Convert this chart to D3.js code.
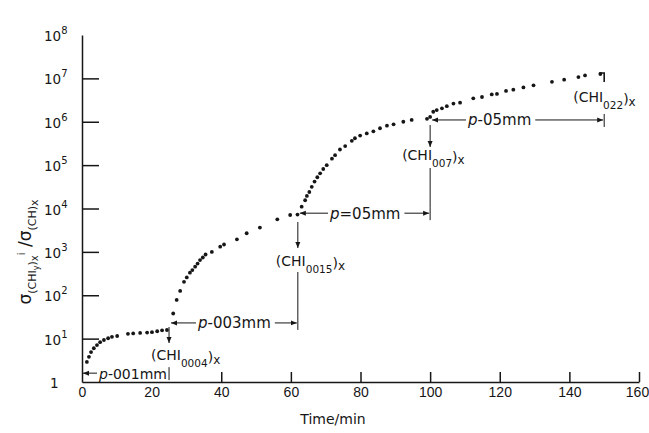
<!DOCTYPE html>
<html>
<head>
<meta charset="utf-8">
<script src="https://cdn.jsdelivr.net/npm/d3@7"></script>
<style>
  body { margin: 0; background: #fff; }
  svg { font-family: "DejaVu Sans", "Liberation Sans", sans-serif; }
</style>
</head>
<body>
<svg id="chart" width="649" height="433"></svg>
<script>
// values: time (min) and sigma ratio, one pair per step
var t1 = [1.4, 2.0, 2.6, 3.4, 4.3, 5.2, 6.3, 7.5, 8.6, 10.1, 13.2, 14.7, 16.7, 18.7, 20.1, 21.6, 23.0, 24.4];
var v1 = [2.9, 3.8, 4.9, 6.0, 7.1, 8.3, 9.3, 10.2, 11.0, 11.5, 12.9, 13.2, 13.5, 13.8, 14.1, 14.8, 15.5, 15.8];

var t2 = [26.2, 27.2, 28.2, 29.3, 30.1, 31.0, 31.7, 32.5, 33.2, 33.9, 34.7, 35.5, 37.3, 39.7, 40.8, 44.5, 47.3, 51.1, 56.1, 59.8, 61.9];
var v2 = [38, 78, 126, 204, 257, 331, 380, 457, 537, 646, 741, 871, 1000, 1318, 1479, 1950, 2690, 3630, 5620, 7080, 7240];

var t3 = [63.1, 64.1, 64.6, 65.3, 66.0, 66.8, 67.6, 68.4, 69.3, 70.3, 71.8, 72.7, 74.1, 75.6, 77.5, 78.4, 79.9, 81.8, 83.7, 85.6, 87.6, 89.5, 92.3, 94.7, 99.1, 100.0];
var v3 = [1.10e4, 1.55e4, 1.95e4, 2.4e4, 3.16e4, 4.17e4, 5.25e4, 6.46e4, 8.13e4, 1.0e5, 1.41e5, 1.70e5, 2.29e5, 2.75e5, 3.63e5, 4.17e5, 4.79e5, 5.37e5, 6.03e5, 7.08e5, 8.13e5, 8.71e5, 1.0e6, 1.10e6, 1.17e6, 1.29e6];

var t4 = [100.9, 101.9, 103.4, 104.8, 106.7, 108.6, 112.4, 114.9, 117.7, 119.2, 121.8, 123.9, 126.8, 129.7, 135.0, 138.5, 142.6, 144.5, 148.9];
var v4 = [1.70e6, 1.86e6, 2.04e6, 2.29e6, 2.63e6, 2.75e6, 3.47e6, 3.72e6, 4.27e6, 4.37e6, 5.13e6, 5.50e6, 6.17e6, 6.92e6, 8.32e6, 9.33e6, 1.07e7, 1.17e7, 1.26e7];

var xTicks = [0, 20, 40, 60, 80, 100, 120, 140, 160];
var yTicks = [1, 1e1, 1e2, 1e3, 1e4, 1e5, 1e6, 1e7, 1e8];

// steps: start/end time, arrow level, labels
var stepStart = [0, 25, 62, 100];
var stepEnd = [25, 62, 100, 150];
var stepLevel = [1.6, 23, 7800, 1.1e6];
var stepText = ["p-001mm", "p-003mm", "p=05mm", "p-05mm"];
var chiSub = ["0004", "0015", "007", "022"];

var svg = d3.select("#chart");
var x = d3.scaleLinear().domain([0, 160]).range([82, 639]);
var y = d3.scaleLog().domain([1, 1e8]).range([382, 35]);
var ink = "#161616";

svg.append("defs").append("marker")
    .attr("id", "ah")
    .attr("viewBox", "0 -3 6 6")
    .attr("refX", 6).attr("refY", 0)
    .attr("markerWidth", 6).attr("markerHeight", 6)
    .attr("markerUnits", "userSpaceOnUse")
    .attr("orient", "auto-start-reverse")
    .append("path").attr("d", "M0,-2.5L6,0L0,2.5Z").attr("fill", ink);

// x axis, ticks pointing up
var xg = svg.append("g").attr("transform", "translate(0," + y(1) + ")")
    .call(d3.axisBottom(x).tickValues(xTicks).tickSizeInner(-10).tickSizeOuter(0).tickPadding(5));
xg.selectAll(".tick line").filter(d => d < 40).remove();
xg.selectAll(".tick text").attr("font-size", 14).attr("font-family", null).attr("fill", ink);
xg.selectAll(".tick text").filter(d => d == 160).attr("dx", -2);

// y axis, ticks pointing right
var yg = svg.append("g").attr("transform", "translate(" + x(0) + ",0)")
    .call(d3.axisLeft(y).tickValues(yTicks).tickSizeInner(-17).tickSizeOuter(0).tickFormat(""));
yg.selectAll(".tick line").filter(d => d == 1 || d == 1e8).remove();
svg.selectAll(".domain, .tick line").attr("stroke", ink).attr("stroke-width", 1.5);

var ylab = svg.append("g").selectAll("text").data(yTicks).enter().append("text")
    .attr("x", d => d == 1 ? 50 : 44)
    .attr("y", d => y(d) + 6)
    .attr("font-size", 13.5).attr("fill", ink);
ylab.append("tspan").text(d => d == 1 ? "1" : "10");
ylab.filter(d => d > 1).append("tspan")
    .attr("dy", -7).attr("font-size", 10)
    .text(d => Math.round(Math.log10(d)));

// y title
var yt = svg.append("text")
    .attr("transform", "translate(31,252) rotate(-90)")
    .attr("text-anchor", "middle").attr("font-size", 17).attr("fill", ink);
yt.append("tspan").text("σ");
yt.append("tspan").attr("font-size", 11).attr("dy", 5).text("(CHI");
yt.append("tspan").attr("font-size", 8).attr("dy", 3).text("y");
yt.append("tspan").attr("font-size", 11).attr("dy", -3).text(")");
yt.append("tspan").attr("font-size", 10).attr("dy", 2).text("x");
yt.append("tspan").attr("font-size", 10).attr("dy", -13).text("i");
yt.append("tspan").attr("font-size", 17).attr("dy", 6).text(" /σ");
yt.append("tspan").attr("font-size", 11).attr("dy", 5).text("(CH)");
yt.append("tspan").attr("font-size", 11).attr("dy", 2).text("x");

svg.append("text").attr("x", 333).attr("y", 424).attr("text-anchor", "middle")
    .attr("font-size", 14).attr("fill", ink).text("Time/min");

// data points
var pts = [];
[[t1, v1], [t2, v2], [t3, v3], [t4, v4]].forEach(function (s) {
    s[0].forEach(function (t, i) { pts.push({ t: t, v: s[1][i] }); });
});
svg.append("g").selectAll("circle").data(pts).enter().append("circle")
    .attr("cx", d => x(d.t)).attr("cy", d => y(d.v))
    .attr("r", 1.9).attr("fill", ink);

// step annotations
var ann = svg.append("g").attr("stroke", ink).attr("stroke-width", 1).attr("fill", "none");
function seg(x1, y1, x2, y2, arrow) {
    var l = ann.append("line").attr("x1", x1).attr("y1", y1).attr("x2", x2).attr("y2", y2);
    if (arrow) l.attr("marker-end", "url(#ah)");
    return l;
}

var textStart = [99, 198, 330, 468];
stepStart.forEach(function (s, i) {
    var ly = y(stepLevel[i]);
    var xa = x(s) + (i == 0 ? 1 : 2), xb = x(stepEnd[i]);
    var t = svg.append("text").attr("x", textStart[i]).attr("y", ly + 5.5)
        .attr("font-size", i == 0 ? 14 : 15).attr("fill", ink)
        .html("<tspan font-style='italic'>p</tspan>" + stepText[i].slice(1));
    var tw = t.node().getComputedTextLength();
    seg(textStart[i] - 2, ly, xa, ly, true);
    if (i > 0) seg(textStart[i] + tw + 4, ly, xb - 1, ly, true);
    seg(xb, ly - 6, xb, ly + 7, false);
});

// vertical markers and (CHI) labels at each step end
var chiPos = [
    { dx: -18, top: 327, bot: 343, base: 360, down: 368 },
    { dx: -22, top: 222, bot: 248, base: 266, down: 272 },
    { dx: -28, top: 125, bot: 147, base: 160, down: 168 },
    { dx: -31, top: 82, bot: 82, base: 102, down: 113 }
];
stepEnd.forEach(function (t, i) {
    var xe = x(t), p = chiPos[i];
    if (i < 3) seg(xe, p.top, xe, p.bot, true);
    else {
        ann.append("path").attr("d", "M" + (xe - 5) + "," + (y(v4[v4.length - 1]) - 1) + "H" + xe + "V" + p.bot)
            .attr("stroke-width", 1.6);
    }
    var yEnd = y(stepLevel[i]) - 6;
    if (i > 0 && i < 3) seg(xe, p.down, xe, yEnd, false);
    var lab = svg.append("text").attr("x", xe + p.dx).attr("y", p.base)
        .attr("font-size", 14).attr("fill", ink);
    lab.append("tspan").text("(CHI");
    lab.append("tspan").attr("font-size", 10.5).attr("dy", 7).text(chiSub[i]);
    lab.append("tspan").attr("dy", -5).text(")");
    lab.append("tspan").attr("font-size", 12).attr("dy", 2).text("x");
});
</script>
</body>
</html>
